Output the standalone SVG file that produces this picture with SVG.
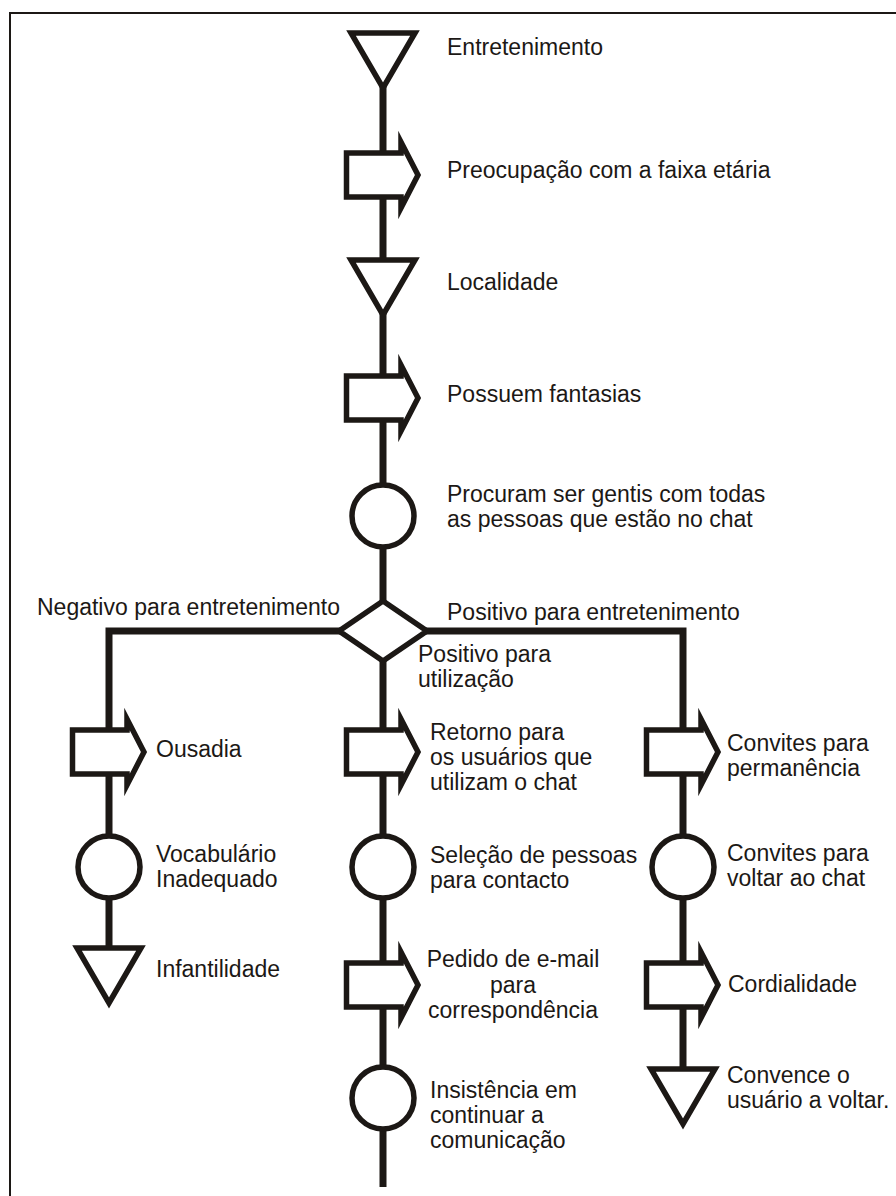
<svg xmlns="http://www.w3.org/2000/svg" width="896" height="1196" viewBox="0 0 896 1196">
<style>
.shape{fill:#fff;stroke:#1c1815;stroke-width:5.5;stroke-linejoin:miter;stroke-miterlimit:10}
.conn{fill:none;stroke:#1c1815;stroke-width:7;stroke-linejoin:miter;stroke-linecap:butt}
.frame{fill:none;stroke:#1c1815;stroke-width:2}
text{font-family:"Liberation Sans",Arial,sans-serif;font-size:23px;fill:#1c1815}
.mid{text-anchor:middle}
</style>
<defs>
<polygon id="arrow" points="-36.5,-22 18,-22 18,-33 35,0 18,33 18,22 -36.5,22"/>
<polygon id="tri" points="-32,0 32,0 0,55"/>
</defs>
<rect width="896" height="1196" fill="#fff"/>
<path class="frame" d="M10,1196 V13 H896"/>
<g id="connectors">
<path class="conn" d="M383,85 V1187"/>
<path class="conn" d="M109,950 V631 H683 V1072"/>
</g>
<g id="n1"><use href="#tri" class="shape" x="383" y="33"/><text x="447" y="55">Entretenimento</text></g>
<g id="n2"><use href="#arrow" class="shape" x="383" y="175"/><text x="447" y="178">Preocupação com a faixa etária</text></g>
<g id="n3"><use href="#tri" class="shape" x="383" y="260"/><text x="447" y="290">Localidade</text></g>
<g id="n4"><use href="#arrow" class="shape" x="383" y="398"/><text x="447" y="402">Possuem fantasias</text></g>
<g id="n5"><circle class="shape" cx="383" cy="516" r="31"/><text x="447" y="502">Procuram ser gentis com todas</text><text x="447" y="527">as pessoas que estão no chat</text></g>
<g id="n6"><polygon class="shape" points="383,601 427,631 383,661 339,631" stroke-width="6.5"/>
<text x="37" y="615">Negativo para entretenimento</text>
<text x="447" y="620">Positivo para entretenimento</text>
<text x="418" y="662">Positivo para</text><text x="418" y="687">utilização</text></g>
<g id="n7"><use href="#arrow" class="shape" x="109" y="752"/><text x="156" y="757">Ousadia</text></g>
<g id="n8"><circle class="shape" cx="109" cy="867" r="31"/><text x="156" y="862">Vocabulário</text><text x="156" y="887">Inadequado</text></g>
<g id="n9"><use href="#tri" class="shape" x="109" y="948"/><text x="156" y="977">Infantilidade</text></g>
<g id="n10"><use href="#arrow" class="shape" x="383" y="752"/><text x="430" y="740">Retorno para</text><text x="430" y="765">os usuários que</text><text x="430" y="790">utilizam o chat</text></g>
<g id="n11"><circle class="shape" cx="383" cy="867" r="31"/><text x="430" y="863">Seleção de pessoas</text><text x="430" y="888">para contacto</text></g>
<g id="n12"><use href="#arrow" class="shape" x="383" y="985"/><text class="mid" x="513" y="967">Pedido de e-mail</text><text class="mid" x="513" y="993">para</text><text class="mid" x="513" y="1018">correspondência</text></g>
<g id="n13"><circle class="shape" cx="383" cy="1098" r="31"/><text x="430" y="1098">Insistência em</text><text x="430" y="1123">continuar a</text><text x="430" y="1148">comunicação</text></g>
<g id="n14"><use href="#arrow" class="shape" x="683" y="752"/><text x="727" y="751">Convites para</text><text x="727" y="776">permanência</text></g>
<g id="n15"><circle class="shape" cx="683" cy="867" r="31"/><text x="727" y="861">Convites para</text><text x="727" y="886">voltar ao chat</text></g>
<g id="n16"><use href="#arrow" class="shape" x="683" y="985"/><text x="728" y="992">Cordialidade</text></g>
<g id="n17"><use href="#tri" class="shape" x="683" y="1069"/><text x="727" y="1083">Convence o</text><text x="727" y="1108">usuário a voltar.</text></g>
</svg>
